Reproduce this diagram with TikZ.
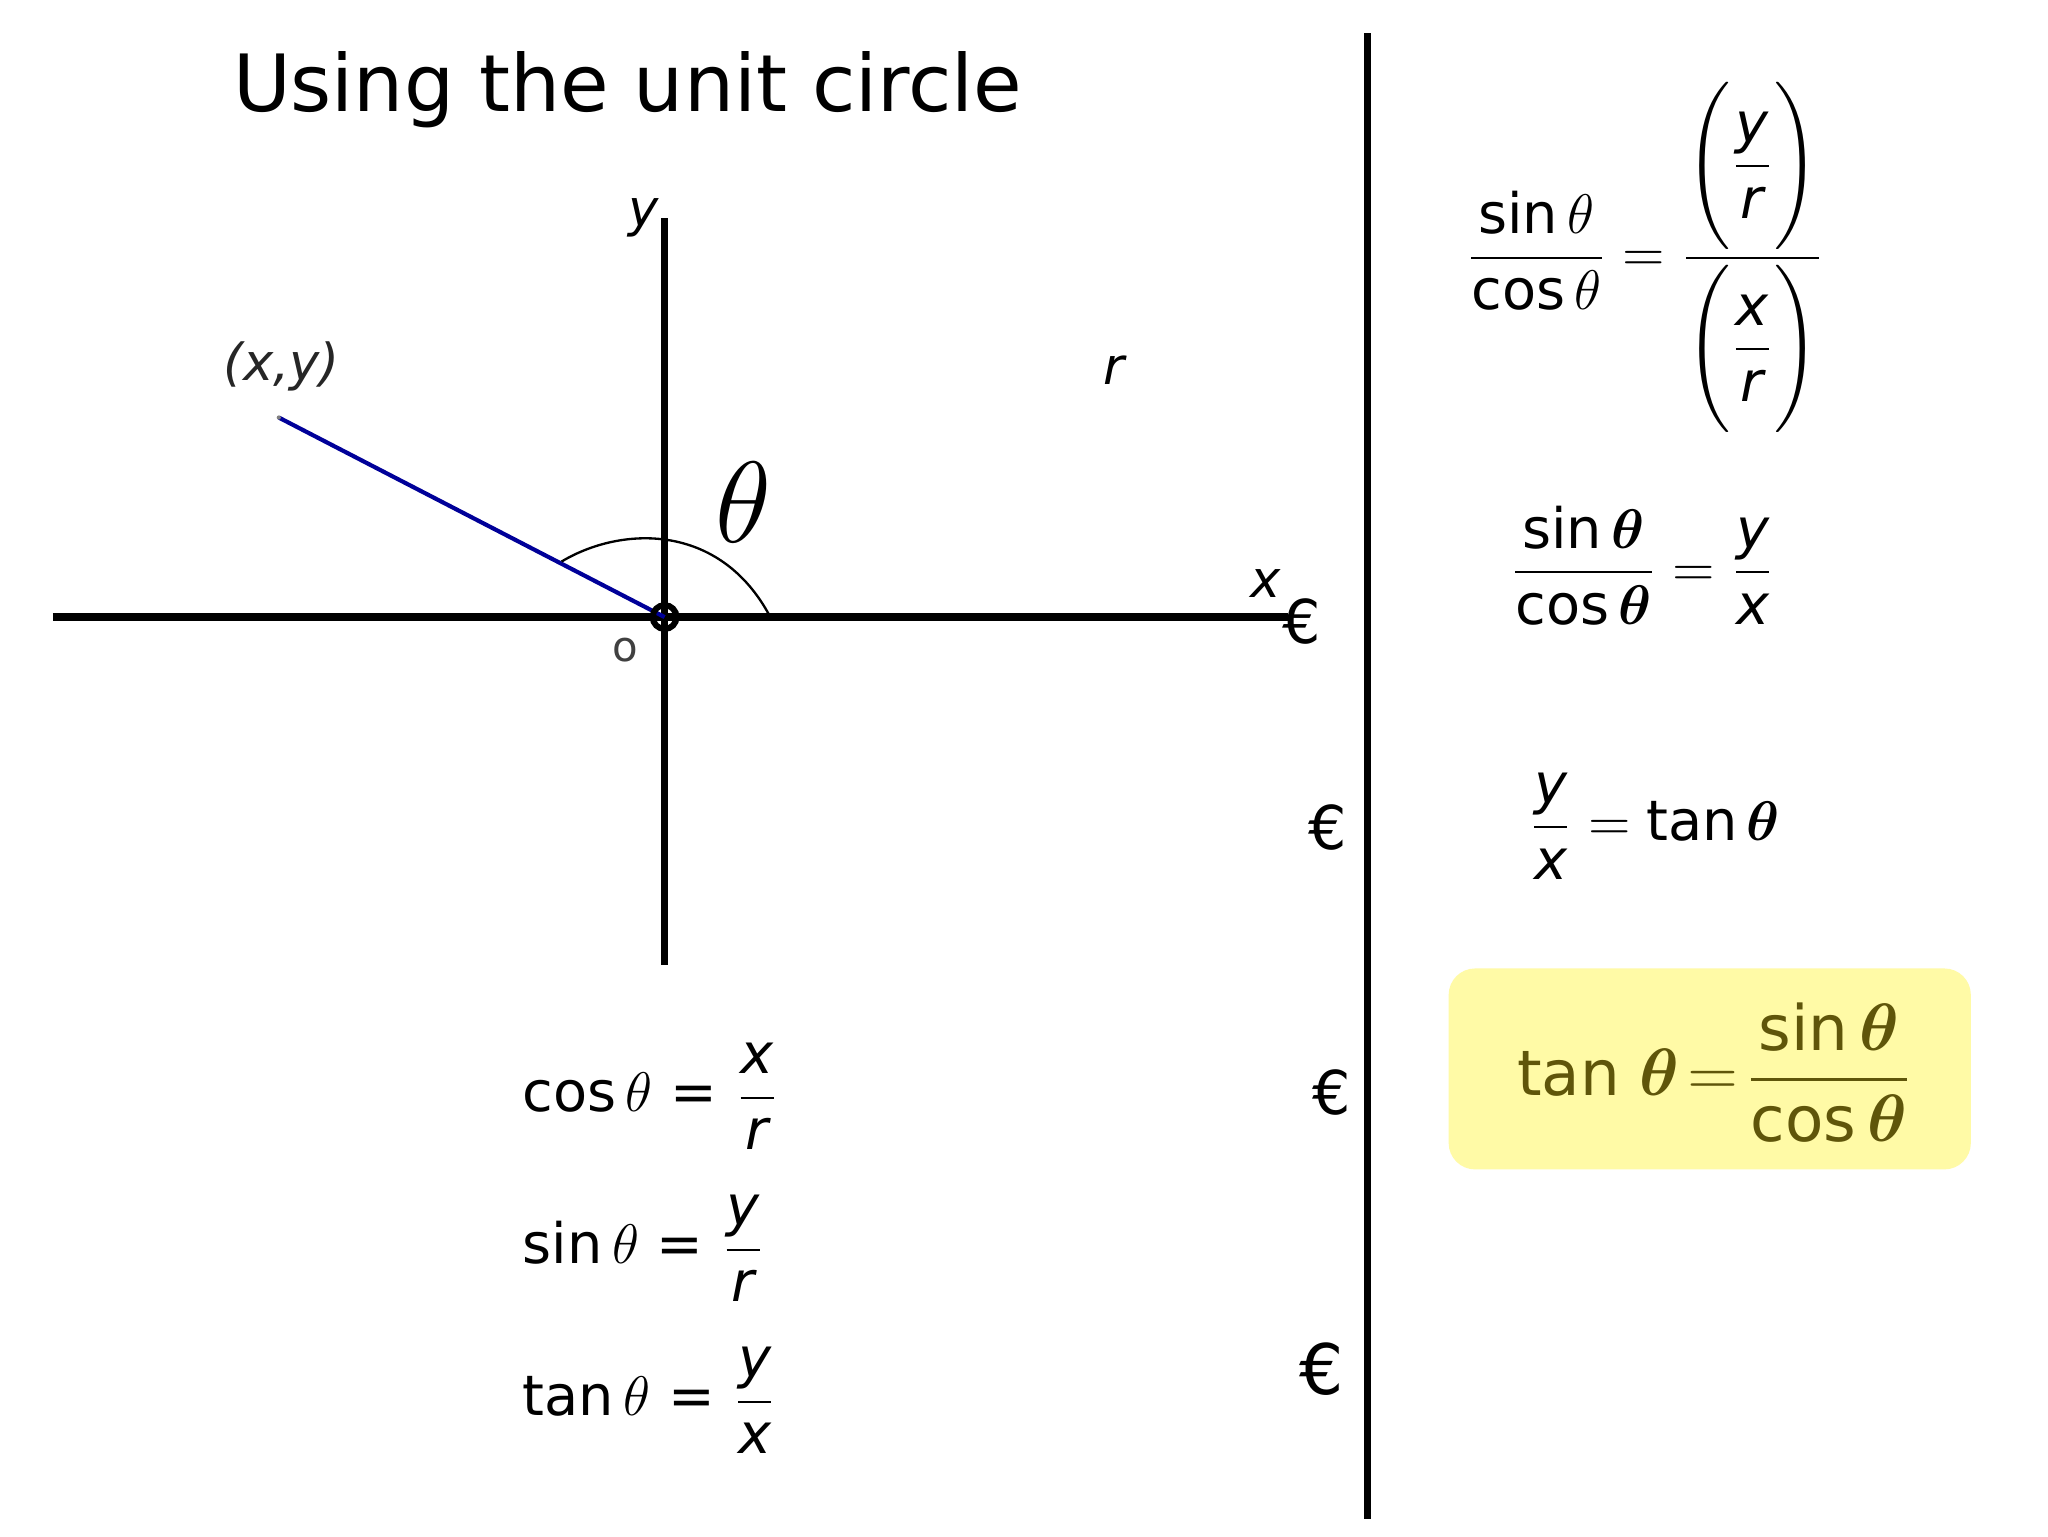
\documentclass[tikz,border=0pt]{standalone}
\usepackage{amsmath}
\usepackage{fontspec}
\setmainfont{DejaVu Sans}
\begin{document}
\begin{tikzpicture}[x=0.01cm,y=-0.01cm,
  fml/.style={font=\fontsize{12}{14}\selectfont,inner sep=0pt},
  lbl/.style={font=\fontsize{11}{13}\selectfont\itshape,inner sep=0pt},
  eur/.style={font=\fontsize{13}{15}\selectfont,inner sep=0pt}]
\useasboundingbox (0,0) rectangle (1550,1163);
\fill[white] (0,0) rectangle (1550,1163);
\node[font=\fontsize{17}{20}\selectfont,inner sep=0pt] (title) at (475,68) {Using the unit circle};
% axes
\coordinate (xl) at (40,467); \coordinate (xr) at (975,467);
\coordinate (yt) at (503,165); \coordinate (yb) at (503,730);
\draw[line width=1.6pt] (xl) -- (xr);
\draw[line width=1.6pt] (yt) -- (yb);
\coordinate (O) at (503,467);
\coordinate (P) at (211,316);
\draw[blue!60!black,line width=0.9pt] (P) -- (O);
\fill[gray] (P) circle (1.6);
\draw[line width=1.3pt] (O) circle (9);
\draw[line width=0.5pt] (425,425) .. controls (470,398) and (545,395) .. (583,467);
\node[font=\fontsize{28}{30}\selectfont,inner sep=0pt] (th) at (563,380) {$\theta$};
\node[lbl,gray!30!black] (xy) at (213,277) {(x,y)};
\node[lbl] (r) at (843,280) {r};
\node[lbl] (ylab) at (487,165) {y};
\node[lbl] (xlab) at (958,442) {x};
\node[font=\fontsize{9}{10}\selectfont,inner sep=0pt,gray!50!black] (o) at (473,492) {o};
% euros
\node[eur] (e1) at (985,470) {€};
\node[eur] (e2) at (1005,626) {€};
\node[eur] (e3) at (1008,827) {€};
\node[eur,font=\fontsize{15}{17}\selectfont] (e4) at (1000,1036) {€};
% divider
\coordinate (dt) at (1035,25); \coordinate (db) at (1035,1150);
\draw[line width=1.6pt] (dt) -- (db);
% left formulas
\node[fml,anchor=west] (f1) at (395,830) {cos$\,\theta$ = $\dfrac{\textit{x}}{\textit{r}}$};
\node[fml,anchor=west] (f2) at (395,945) {sin$\,\theta$ = $\dfrac{\textit{y}}{\textit{r}}$};
\node[fml,anchor=west] (f3) at (395,1060) {tan$\,\theta$ = $\dfrac{\textit{y}}{\textit{x}}$};
% right formulas
\node[fml] (g1) at (1245,195) {$\dfrac{\text{sin}\,\theta}{\text{cos}\,\theta} = \dfrac{\Biggl(\dfrac{\textit{y}}{\textit{r}}\Biggr)}{\Biggl(\dfrac{\textit{x}}{\textit{r}}\Biggr)}$};
\node[fml] (g2) at (1243,428) {$\dfrac{\text{sin}\,\boldsymbol{\theta}}{\text{cos}\,\boldsymbol{\theta}} = \dfrac{\textit{y}}{\textit{x}}$};
\node[fml] (g3) at (1252,625) {$\dfrac{\textit{y}}{\textit{x}} = \text{tan}\,\boldsymbol{\theta}$};
\node[fill=yellow!35,rounded corners=0.2cm,minimum width=3.95cm,minimum height=1.52cm,inner sep=0pt] (box) at (1294,809) {};
\node[fml,text={rgb,255:red,95;green,85;blue,10},font=\fontsize{13.5}{16}\selectfont] (g4) at (1298,812) {tan $\boldsymbol{\theta}\!=\!\dfrac{\text{sin}\,\boldsymbol{\theta}}{\text{cos}\,\boldsymbol{\theta}}$};
\end{tikzpicture}
\end{document}
